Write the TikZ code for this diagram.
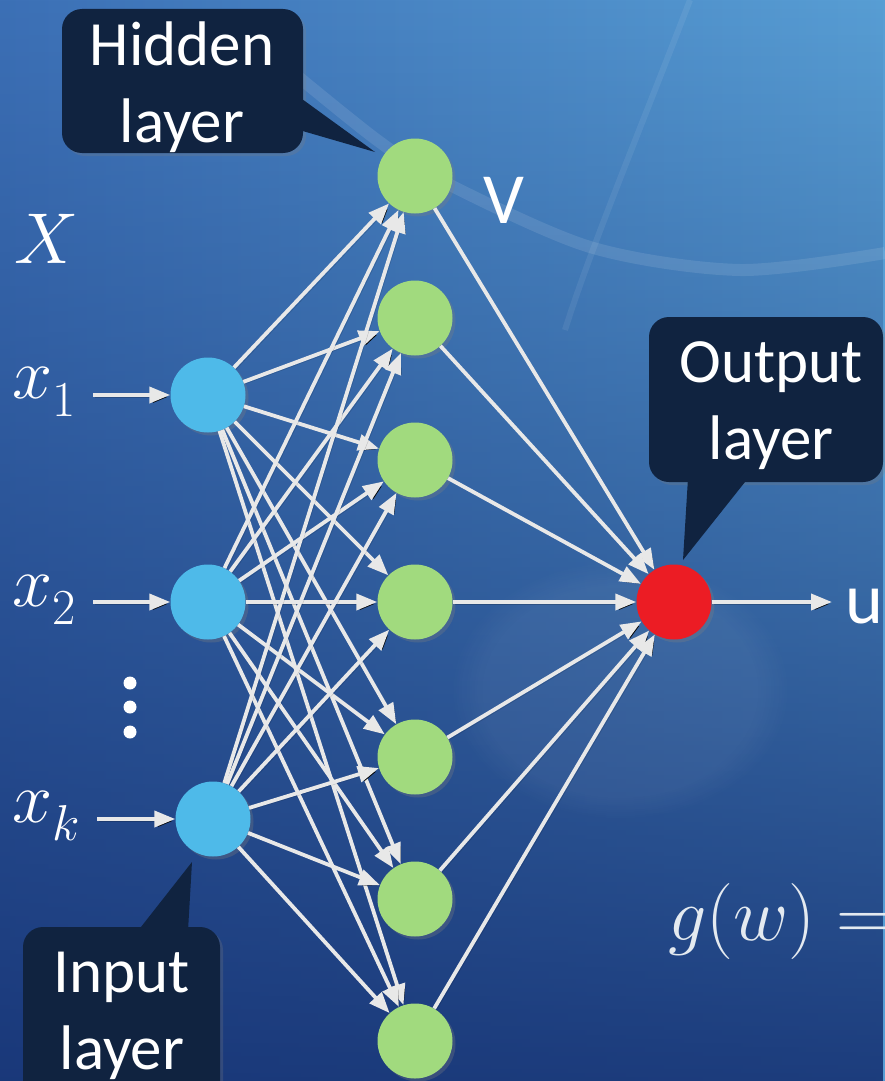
\RequirePackage{fix-cm}
\documentclass[tikz,border=0pt]{standalone}
\usepackage[no-math]{fontspec}
\setmainfont{Carlito}
\usetikzlibrary{arrows.meta,shadows,fadings,calc}
\definecolor{cbleu}{RGB}{78,186,233}
\definecolor{cvert}{RGB}{161,218,126}
\definecolor{crouge}{RGB}{236,28,36}
\definecolor{cnuit}{RGB}{16,35,64}
\definecolor{cfleche}{RGB}{232,232,232}
\definecolor{cfondg}{RGB}{60,112,182}
\definecolor{cfondd}{RGB}{88,158,212}
\definecolor{cfondb}{RGB}{22,50,115}
\definecolor{cgris}{RGB}{228,234,240}

\begin{document}
\begin{tikzpicture}[x=1pt, y=-1pt, >={Triangle[length=21pt,width=16pt]},
  neurone/.style={circle, minimum size=75pt, inner sep=0pt,
    drop shadow={shadow xshift=3pt, shadow yshift=-3pt, opacity=.3}},
  fleche/.style={->, draw=cfleche, line width=3.8pt,
    preaction={draw=black, draw opacity=.18, transform canvas={xshift=2pt, yshift=-2pt}}},
  bulle/.style={fill=cnuit, rounded corners=20pt, inner sep=0pt,
    drop shadow={shadow xshift=3pt, shadow yshift=-3pt, opacity=.25}},
  texte/.style={text=white, font=\fontsize{63}{77}\selectfont, align=center, inner sep=0pt},
  etiq/.style={text=white, font=\fontsize{72}{86}\selectfont, inner sep=0pt, anchor=base west}]
\useasboundingbox (0,0) rectangle (885,1081);
\clip (0,0) rectangle (885,1081);
% fond
\fill[left color=cfondg, right color=cfondd] (0,0) rectangle (885,1081);
\fill[cfondb, path fading=north, fill opacity=.9] (0,0) rectangle (885,1081);
\draw[white, opacity=.1, line width=12pt] plot[smooth] coordinates {(290,70) (377,140) (440,180) (590,247) (740,270) (885,253)};
\draw[white, opacity=.07, line width=6pt] (690,0) .. controls (640,130) and (590,250) .. (565,330);
\fill[white, opacity=.05, path fading=circle with fuzzy edge 20 percent] (620,690) ellipse (170pt and 130pt);

% neurones
\node[neurone, fill=cbleu] (e1) at (208,395) {};
\node[neurone, fill=cbleu] (e2) at (208,602) {};
\node[neurone, fill=cbleu] (ek) at (213,819) {};
\foreach \n/\y in {1/176,2/318,3/460,4/602,5/757,6/899,7/1041}
  \node[neurone, fill=cvert] (c\n) at (415,\y) {};
\node[neurone, fill=crouge] (s) at (674,602) {};

% connexions
\foreach \e in {e1,e2,ek}
  \foreach \n in {1,...,7}
    \draw[fleche] (\e) -- (c\n);
\foreach \n in {1,...,7}
  \draw[fleche] (c\n) -- (s);
\coordinate (d1) at (93,395);
\coordinate (d2) at (93,602);
\coordinate (dk) at (97,819);
\coordinate (fin) at (832,602);
\draw[fleche] (d1) -- (e1);
\draw[fleche] (d2) -- (e2);
\draw[fleche] (dk) -- (ek);
\draw[fleche] (s) -- (fin);

% etiquettes
\node[etiq] (lX) at (14,263) {$X$};
\node[etiq] (lx1) at (12,398) {$x_{\raisebox{-8pt}{$\scriptstyle 1$}}$};
\node[etiq] (lx2) at (12,606) {$x_{\raisebox{-8pt}{$\scriptstyle 2$}}$};
\node[etiq] (lxk) at (12,822) {$x_{\raisebox{-8pt}{$\scriptstyle k$}}$};
\foreach \y in {683,707,732}
  \fill[white] (130,\y) circle (6.5pt);
\node[etiq] (lV) at (483,223) {V};
\node[etiq] (lu) at (845,623) {u};
\node[anchor=base west, inner sep=0pt, text=cgris, font=\fontsize{76}{90}\selectfont] (gw) at (668,940) {$g(w) =$};

% bulles
\node[bulle, minimum width=241pt, minimum height=144pt] (bcache) at (182.5,81) {};
\coordinate (pcache) at (375,152);
\fill[cnuit] ($(bcache.east)+(-4,16)$) -- (pcache) -- ($(bcache.east)+(-4,49)$) -- cycle;
\node[texte] (tcache) at (182,87) {Hidden\\layer};

\node[bulle, minimum width=234pt, minimum height=165pt] (bsortie) at (766,399.5) {};
\coordinate (psortie) at (683,560);
\fill[cnuit] ($(bsortie.south)+(-78,-4)$) -- (psortie) -- ($(bsortie.south)+(-18,-4)$) -- cycle;
\node[texte] (tsortie) at (771,406) {Output\\layer};

\node[bulle, minimum width=197pt, minimum height=183pt] (bentree) at (121.5,1018.5) {};
\coordinate (pentree) at (192,862);
\fill[cnuit] ($(bentree.north)+(16.5,4)$) -- (pentree) -- ($(bentree.north)+(66.5,4)$) -- cycle;
\node[texte] (tentree) at (122,1016) {Input\\layer};
\end{tikzpicture}
\end{document}
